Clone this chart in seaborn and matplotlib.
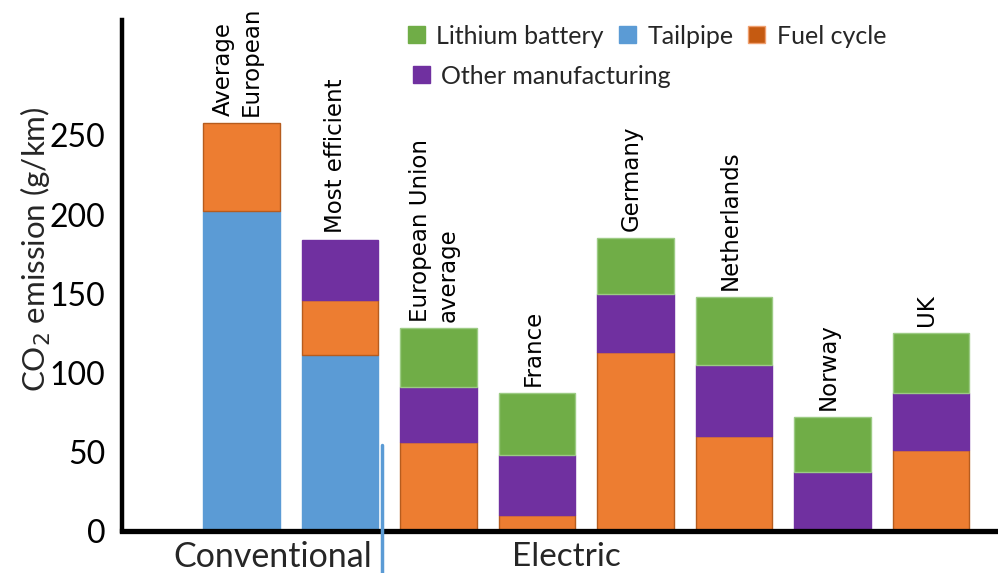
import numpy as np
import pandas as pd
import matplotlib
matplotlib.use("Agg")
import matplotlib.pyplot as plt
from matplotlib.patches import Patch
import matplotlib.transforms as mtrans
import seaborn as sns

# ---- data ----
categories = ["Average\nEuropean", "Most efficient", "European Union\naverage",
              "France", "Germany", "Netherlands", "Norway", "UK"]
tailpipe = [202, 111, 0, 0, 0, 0, 0, 0]
fuel_cycle = [56, 35, 56, 10, 113, 60, 0, 51]
other_manufacturing = [0, 38, 35, 38, 37, 45, 37, 36]
lithium_battery = [0, 0, 37, 39, 35, 43, 35, 38]
y_ticks = [0, 50, 100, 150, 200, 250]
group_labels = ["Conventional", "Electric"]

sns.set_style("white")
plt.rcParams["font.family"] = ["Lato", "DejaVu Sans"]

fig = plt.figure(figsize=(9.98, 5.73), dpi=100)
ax = fig.add_axes([0.1222, 0.0733, 0.8778, 0.8918])

BLUE = "#5B9BD5"
ORANGE = "#ED7D31"
PURPLE = "#7030A0"
GREEN = "#70AD47"

layers = [
    ("Tailpipe", tailpipe, BLUE, BLUE),
    ("Fuel cycle", fuel_cycle, ORANGE, "#B65C1E"),
    ("Other manufacturing", other_manufacturing, PURPLE, PURPLE),
    ("Lithium battery", lithium_battery, GREEN, "#9CCB84"),
]

bottom = np.zeros(len(categories))
for name, vals, col, edge in layers:
    vals = np.asarray(vals, dtype=float)
    df = pd.DataFrame({"cat": categories, "val": vals, "bottom": bottom.copy()})
    df = df[df["val"] > 0]
    sns.barplot(data=df, x="cat", y="val", order=categories, bottom=df["bottom"].values,
                color=col, edgecolor=edge, linewidth=1, width=0.78, saturation=1,
                ax=ax, zorder=2)
    bottom = bottom + vals

totals = bottom
for i, (lab, tot) in enumerate(zip(categories, totals)):
    ax.annotate(lab, xy=(i, tot), xytext=(-3, 5), textcoords="offset points",
                rotation=90, ha="center", va="bottom", multialignment="left",
                fontsize=16.5, family="DejaVu Sans", color="black", linespacing=1.25)

ax.set_xlim(-1.213, 7.68)
ax.set_ylim(0, 323)
ax.set_xticks([])
ax.set_xlabel("")
ax.set_yticks(y_ticks)
ax.set_yticklabels([str(t) for t in y_ticks], fontsize=23)
ax.tick_params(axis="y", direction="inout", length=20, width=2, pad=2, colors="black")
ax.set_ylabel("CO$_2$ emission (g/km)", fontsize=22.5)
ax.yaxis.set_label_coords(-0.098, 0.552)
ax.yaxis.label.set_va("center")

for s in ["top", "right"]:
    ax.spines[s].set_visible(False)
ax.spines["left"].set_linewidth(3.2)
ax.spines["bottom"].set_linewidth(3.8)
ax.spines["left"].set_color("black")
ax.spines["bottom"].set_color("black")
ax.spines["left"].set_zorder(5)
ax.spines["bottom"].set_zorder(5)

# divider between conventional and electric
trans = mtrans.blended_transform_factory(ax.transData, ax.transAxes)
ax.plot([1.427, 1.427], [-0.09, 0.168], color=BLUE, lw=2.5, transform=trans,
        clip_on=False, zorder=6)

fig.text(0.2735, 0.028, group_labels[0], ha="center", va="center", fontsize=24.5)
fig.text(0.568, 0.028, group_labels[1], ha="center", va="center", fontsize=24)

# legend (two rows as in reference)
h1 = [Patch(facecolor=GREEN, edgecolor=GREEN, label="Lithium battery"),
      Patch(facecolor=BLUE, edgecolor=BLUE, label="Tailpipe"),
      Patch(facecolor="#C55A11", edgecolor="#F0A070", label="Fuel cycle")]
h2 = [Patch(facecolor=PURPLE, edgecolor=PURPLE, label="Other manufacturing")]
leg1 = fig.legend(handles=h1, loc="center left", bbox_to_anchor=(0.409, 1 - 36 / 573),
                  ncol=3, frameon=False, fontsize=18, handlelength=0.68, handleheight=0.68,
                  handletextpad=0.45, columnspacing=0.6, borderpad=0, borderaxespad=0)
leg2 = fig.legend(handles=h2, loc="center left", bbox_to_anchor=(0.414, 1 - 76 / 573),
                  ncol=1, frameon=False, fontsize=18, handlelength=0.68, handleheight=0.68,
                  handletextpad=0.45, borderpad=0, borderaxespad=0)

fig.savefig("out.png", dpi=100)
